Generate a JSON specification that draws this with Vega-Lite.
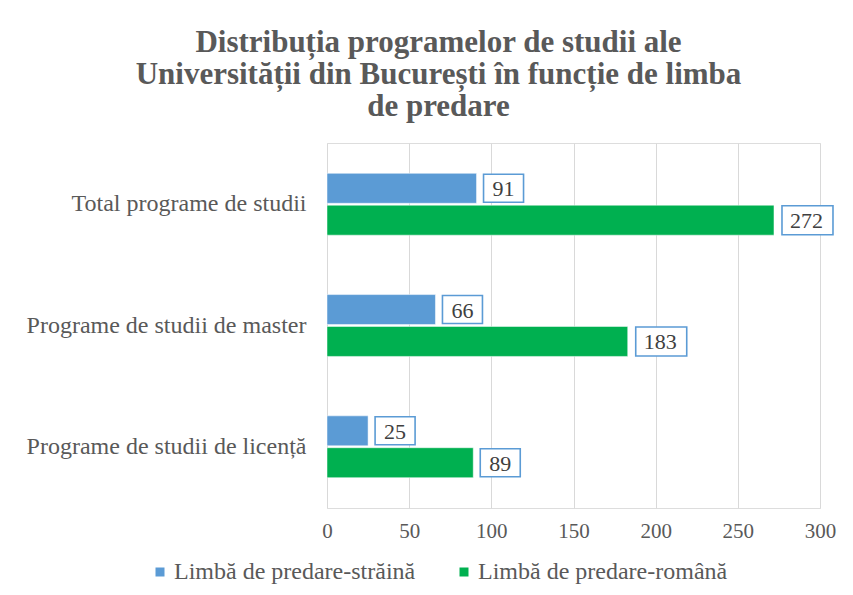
{
  "$schema": "https://vega.github.io/schema/vega-lite/v6.json",
  "width": 493,
  "height": 365,
  "autosize": {"type": "none"},
  "padding": {"left": 327, "top": 143, "right": 33, "bottom": 87},
  "background": "white",
  "title": {
    "text": ["Distribuția programelor de studii ale", "Universității din București în funcție de limba", "de predare"],
    "font": "Liberation Serif",
    "fontSize": 31,
    "fontWeight": "bold",
    "color": "#595959",
    "anchor": "middle",
    "frame": "group",
    "dx": -135,
    "offset": 20,
    "lineHeight": 32
  },
  "data": {
    "values": [
      {"category": "Total programe de studii", "series": "Limbă de predare-străină", "value": 91},
      {"category": "Total programe de studii", "series": "Limbă de predare-română", "value": 272},
      {"category": "Programe de studii de master", "series": "Limbă de predare-străină", "value": 66},
      {"category": "Programe de studii de master", "series": "Limbă de predare-română", "value": 183},
      {"category": "Programe de studii de licență", "series": "Limbă de predare-străină", "value": 25},
      {"category": "Programe de studii de licență", "series": "Limbă de predare-română", "value": 89}
    ]
  },
  "encoding": {
    "y": {
      "field": "category",
      "type": "nominal",
      "sort": ["Total programe de studii", "Programe de studii de master", "Programe de studii de licență"],
      "scale": {"paddingInner": 0.49, "paddingOuter": 0.25},
      "axis": {
        "title": null,
        "domain": false,
        "ticks": false,
        "labelFont": "Liberation Serif",
        "labelFontSize": 24,
        "labelColor": "#595959",
        "labelPadding": 21,
        "labelLimit": 400
      }
    },
    "yOffset": {
      "field": "series",
      "type": "nominal",
      "scale": {"domain": ["Limbă de predare-străină", "Limbă de predare-română"], "paddingInner": 0.06}
    },
    "x": {
      "field": "value",
      "type": "quantitative",
      "scale": {"domain": [0, 300], "nice": false},
      "axis": {
        "title": null,
        "domain": false,
        "ticks": false,
        "values": [0, 50, 100, 150, 200, 250, 300],
        "grid": true,
        "gridColor": "#D9D9D9",
        "gridWidth": 1,
        "labelFlush": false,
        "labelFont": "Liberation Serif",
        "labelFontSize": 21,
        "labelColor": "#595959",
        "labelPadding": 12
      }
    }
  },
  "layer": [
    {
      "mark": {"type": "bar", "stroke": "#ffffff", "strokeWidth": 0.5},
      "encoding": {
        "color": {
          "field": "series",
          "type": "nominal",
          "scale": {"domain": ["Limbă de predare-străină", "Limbă de predare-română"], "range": ["#5B9BD5", "#00B050"]},
          "legend": {
            "title": null,
            "orient": "none",
            "direction": "horizontal",
            "legendX": -179,
            "legendY": 417,
            "symbolType": "square",
            "symbolSize": 81,
            "symbolStrokeWidth": 0,
            "labelFont": "Liberation Serif",
            "labelFontSize": 24,
            "labelColor": "#595959",
            "labelOffset": 2,
            "labelLimit": 400,
            "columnPadding": 36
          }
        }
      }
    },
    {
      "mark": {"type": "point", "filled": true, "fill": "#ffffff", "stroke": "#5B9BD5", "strokeWidth": 1.6, "opacity": 1, "size": 400},
      "encoding": {
        "shape": {
          "condition": {"test": "datum.value >= 100", "value": "M0.8,-1.45H5.9V1.45H0.8Z"},
          "value": "M0.7,-1.4H4.7V1.4H0.7Z"
        }
      }
    },
    {
      "mark": {"type": "text", "align": "left", "baseline": "middle", "dx": 16, "dy": 1, "font": "Liberation Serif", "fontSize": 22, "color": "#404040"},
      "encoding": {
        "text": {"field": "value", "type": "quantitative"}
      }
    }
  ]
}
